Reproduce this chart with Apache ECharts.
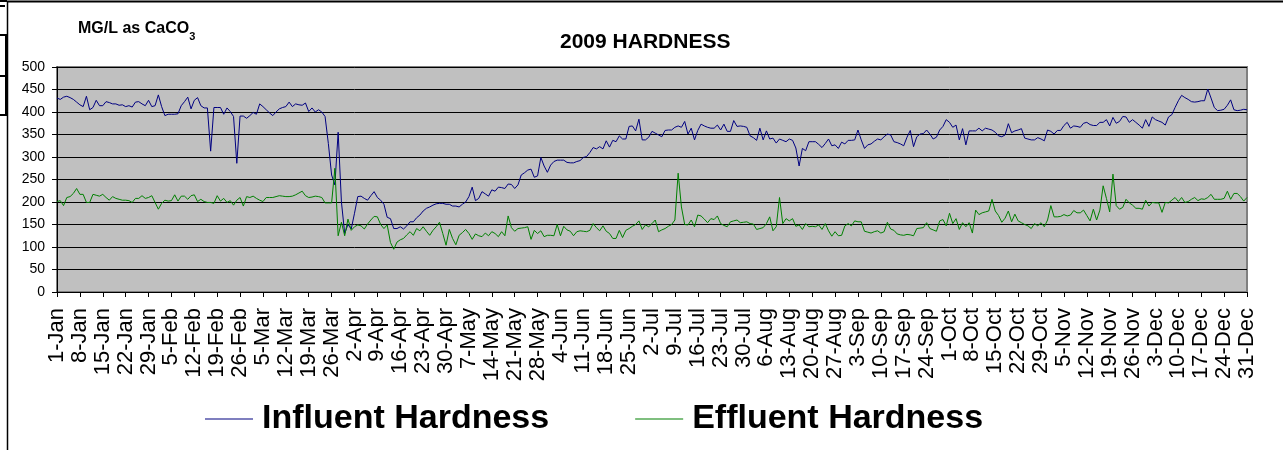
<!DOCTYPE html>
<html>
<head>
<meta charset="utf-8">
<script src="https://cdn.jsdelivr.net/npm/echarts@6/dist/echarts.min.js"></script>
<style>
html,body{margin:0;padding:0;background:#fff;}
#chart{width:1283px;height:450px;}
</style>
</head>
<body>
<div id="chart"></div>
<script>
// ---- data ----
const monthNames = ['Jan','Feb','Mar','Apr','May','Jun','Jul','Aug','Sep','Oct','Nov','Dec'];
const monthDays = [31,28,31,30,31,30,31,31,30,31,30,31];
const yTicks = [0,50,100,150,200,250,300,350,400,450,500];
const titleText = '2009 HARDNESS';
const unitText = 'MG/L as CaCO';
const seriesNames = ['Influent Hardness','Effluent Hardness'];

const influent = [
431,428,433,435,432,428,422,416,412,435,
405,410,426,414,414,423,421,418,418,415,
416,412,414,411,422,423,418,414,426,412,
414,438,412,392,395,395,395,396,414,423,
433,407,426,432,414,409,409,313,410,410,
410,395,409,401,390,286,391,391,386,392,
399,395,418,412,405,398,392,400,407,410,
412,422,412,418,416,415,420,401,409,400,
405,400,390,330,260,238,355,200,130,150,
140,175,212,213,208,204,214,223,210,204,
195,166,163,141,141,145,140,147,156,156,
165,171,180,186,189,193,196,197,197,195,
195,191,191,189,195,200,212,233,203,208,
223,218,213,227,224,233,232,230,240,239,
230,238,260,265,271,273,255,258,299,280,
266,282,290,293,293,293,288,287,287,290,
292,299,301,310,321,318,323,318,336,322,
337,334,347,340,340,368,369,358,384,338,
338,344,357,353,349,345,359,360,360,366,
369,366,379,351,364,338,359,373,369,366,
364,364,371,360,373,357,357,381,368,369,
368,366,347,343,337,364,338,358,340,342,
331,340,337,334,340,337,320,280,319,314,
334,334,334,328,321,330,340,325,327,319,
333,329,337,337,338,360,338,319,327,329,
335,340,338,345,351,349,334,332,329,325,
344,359,323,345,351,352,360,351,340,344,
360,368,383,377,366,371,338,363,327,358,
358,358,364,358,364,362,360,355,347,345,
349,374,354,358,360,363,342,340,338,338,
343,340,336,360,357,351,359,359,370,377,
364,369,368,366,375,377,372,370,370,377,
377,383,369,388,375,379,390,389,377,383,
377,371,364,383,368,389,383,380,377,371,
389,394,410,425,437,432,428,423,422,423,
425,425,451,431,410,403,404,406,415,427,
405,403,404,406,405
];

const effluent = [
201,203,192,210,212,219,230,217,217,199,
199,217,215,213,217,210,204,212,208,206,
204,204,203,199,208,208,214,208,210,214,
199,184,197,204,202,203,216,202,213,213,
206,214,216,201,206,201,199,199,197,214,
202,208,199,203,193,204,210,191,212,210,
213,208,204,201,210,210,210,212,214,213,
212,212,213,216,220,224,214,210,211,213,
212,210,198,198,198,275,125,155,125,162,
137,145,149,147,140,151,160,168,167,150,
141,149,110,95,111,116,119,127,134,126,
141,136,145,135,126,137,145,155,130,104,
139,119,105,126,132,139,130,117,129,125,
123,131,125,134,130,123,134,125,169,143,
135,141,142,143,145,117,137,130,136,123,
126,126,125,150,125,146,138,135,125,134,
136,135,134,137,152,143,136,147,135,130,
119,119,137,121,137,141,146,150,158,139,
149,145,152,160,134,138,141,146,150,160,
264,189,150,149,160,145,171,169,162,154,
163,161,169,152,148,145,156,158,160,154,
155,156,152,151,139,141,143,152,167,136,
145,210,152,163,158,163,146,149,139,152,
145,146,145,149,139,152,136,124,134,125,
126,147,152,147,158,156,156,135,133,131,
134,136,131,134,155,140,137,129,127,126,
128,127,125,141,142,143,154,141,138,135,
158,161,147,175,152,163,139,154,145,154,
131,182,172,176,178,180,206,180,170,155,
164,180,156,173,158,154,150,147,141,152,
147,154,145,160,192,167,167,168,172,169,
171,181,176,176,182,170,158,184,160,182,
236,208,178,262,192,184,188,206,198,193,
186,186,184,204,191,199,198,198,177,199,
198,204,210,201,210,199,201,206,210,203,
207,206,210,217,206,206,206,208,224,206,
219,219,212,202,210
];

// category labels, e.g. "1-Jan"
const dates = [];
monthNames.forEach((m, i) => {
  for (let d = 1; d <= monthDays[i]; d++) dates.push(d + '-' + m);
});

const FONT = '"Liberation Sans", Arial, sans-serif';
const chart = echarts.init(document.getElementById('chart'), null, {renderer: 'canvas'});

chart.setOption({
  animation: false,
  backgroundColor: '#ffffff',
  textStyle: {fontFamily: FONT},
  title: [
    {
      text: titleText,
      left: 560, top: 32, padding: 0,
      textStyle: {fontFamily: FONT, fontSize: 21, fontWeight: 'bold', color: '#000'}
    },
    {
      text: '{a|' + unitText + '}{s|3}',
      left: 78, top: 19, padding: 0,
      textStyle: {
        rich: {
          a: {fontFamily: FONT, fontSize: 16, fontWeight: 'bold', color: '#000', verticalAlign: 'top', height: 20},
          s: {fontFamily: FONT, fontSize: 11, fontWeight: 'bold', color: '#000', padding: [8, 0, 0, 0], verticalAlign: 'top', height: 20}
        }
      }
    }
  ],
  legend: {
    data: seriesNames,
    left: 205, top: 399, padding: 0,
    icon: 'rect',
    itemWidth: 48, itemHeight: 1, itemGap: 86,
    textStyle: {fontFamily: FONT, fontSize: 34, fontWeight: 'bold', color: '#000', padding: [0, 0, 0, 4], lineHeight: 40}
  },
  grid: {
    left: 57, right: 36, top: 67, bottom: 158,
    show: true, backgroundColor: '#C0C0C0', borderColor: '#808080', borderWidth: 2
  },
  xAxis: {
    type: 'category',
    data: dates,
    boundaryGap: false,
    axisLine: {lineStyle: {color: '#000', width: 1}},
    axisTick: {show: true, interval: 6, length: 5, lineStyle: {color: '#000'}},
    axisLabel: {interval: 6, rotate: 90, margin: 16, fontFamily: FONT, fontSize: 22, color: '#000'},
    splitLine: {show: false}
  },
  yAxis: {
    type: 'value',
    min: yTicks[0], max: yTicks[yTicks.length - 1], interval: 50,
    axisLine: {show: true, lineStyle: {color: '#000', width: 1}},
    axisTick: {show: true, length: 5, lineStyle: {color: '#000'}},
    axisLabel: {margin: 12, fontFamily: FONT, fontSize: 14, color: '#000'},
    splitLine: {show: true, lineStyle: {color: '#000', width: 1}}
  },
  series: [
    {name: seriesNames[0], type: 'line', data: influent, symbol: 'none', showSymbol: false,
     lineStyle: {color: '#000080', width: 1}, itemStyle: {color: '#000080'}},
    {name: seriesNames[1], type: 'line', data: effluent, symbol: 'none', showSymbol: false,
     lineStyle: {color: '#008000', width: 1}, itemStyle: {color: '#008000'}}
  ],
  graphic: [
    {type: 'line', shape: {x1: 7, y1: 1.5, x2: 1283, y2: 1.5}, style: {stroke: '#000', lineWidth: 2}},
    {type: 'line', shape: {x1: 7.5, y1: 1, x2: 7.5, y2: 450}, style: {stroke: '#000', lineWidth: 1.5}},
    {type: 'rect', shape: {x: 0, y: 0, width: 7, height: 2}, style: {fill: '#000'}},
    {type: 'rect', shape: {x: 0, y: 5, width: 5, height: 2}, style: {fill: '#000'}},
    {type: 'line', shape: {x1: 0, y1: 35, x2: 7, y2: 35}, style: {stroke: '#000', lineWidth: 2}},
    {type: 'line', shape: {x1: 0, y1: 76, x2: 7, y2: 76}, style: {stroke: '#000', lineWidth: 2}},
    {type: 'line', shape: {x1: 0, y1: 115, x2: 7, y2: 115}, style: {stroke: '#000', lineWidth: 2}},
    {type: 'line', shape: {x1: 6, y1: 35, x2: 6, y2: 115}, style: {stroke: '#000', lineWidth: 2}}
  ]
});
</script>
</body>
</html>
